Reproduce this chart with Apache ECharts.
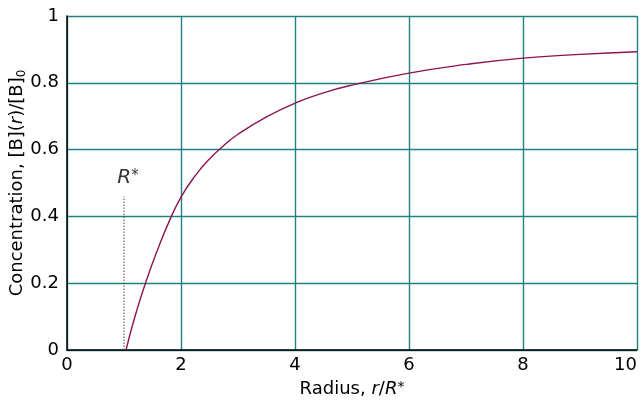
<!DOCTYPE html>
<html>
<head>
<meta charset="utf-8">
<script src="https://cdn.jsdelivr.net/npm/echarts@6/dist/echarts.min.js"></script>
<style>
html,body{margin:0;padding:0;background:#fff;}
#chart{width:643px;height:401px;}
</style>
</head>
<body>
<div id="chart"></div>
<script>
// Radius r/R* and concentration [B](r)/[B]0
const radius = [1.035, 1.2, 1.4, 1.6, 1.8, 2, 2.25, 2.5, 2.75, 3, 3.5, 4, 4.5, 5, 6, 7, 8, 9, 10];
const concentration = [0, 0.105, 0.212, 0.305, 0.388, 0.458, 0.522, 0.572, 0.612, 0.646, 0.698, 0.739, 0.77, 0.793, 0.829, 0.855, 0.874, 0.885, 0.893];
const rStarX = [1, 1];
const rStarY = [0, 0.46];
const rStarLabelPos = [1, 0.515];
const xTicks = [0, 2, 4, 6, 8, 10];
const yTicks = [0, 0.2, 0.4, 0.6, 0.8, 1];

const FONT = 'DejaVu Sans, sans-serif';
const FS = 18;
const GRID = '#238080';

const chart = echarts.init(document.getElementById('chart'), null, {renderer: 'canvas'});
chart.setOption({
  animation: false,
  backgroundColor: '#fff',
  grid: {left: 67, right: 6, top: 16, bottom: 51, containLabel: false, outerBoundsMode: 'none'},
  xAxis: {
    type: 'value', min: 0, max: 10, interval: 2,
    axisLine: {show: true, onZero: false, lineStyle: {color: '#000', width: 1.5}},
    axisTick: {show: false},
    splitLine: {show: true, lineStyle: {color: GRID, width: 1.4}},
    axisLabel: {color: '#000', fontSize: FS, fontFamily: FONT, margin: 6, alignMaxLabel: 'right',
      formatter: v => xTicks.includes(v) ? String(v) : ''},
    name: '{n|Radius, }{i|r}{n|/}{i|R}{s|*}',
    nameLocation: 'middle', nameGap: 30, nameMoveOverlap: false,
    nameTextStyle: {
      rich: {
        n: {fontSize: FS, fontFamily: FONT, color: '#000'},
        i: {fontSize: FS, fontFamily: FONT, color: '#000', fontStyle: 'italic'},
        s: {fontSize: 14, fontFamily: FONT, color: '#000', padding: [0, 0, 4, 0]}
      }
    }
  },
  yAxis: {
    type: 'value', min: 0, max: 1, interval: 0.2,
    axisLine: {show: true, onZero: false, lineStyle: {color: '#000', width: 1.5}},
    axisTick: {show: false},
    splitLine: {show: true, lineStyle: {color: GRID, width: 1.4}},
    axisLabel: {color: '#000', fontSize: FS, fontFamily: FONT, margin: 8,
      formatter: v => {
        const t = yTicks.find(k => Math.abs(k - v) < 1e-9);
        return t === undefined ? '' : String(t);
      }},
    name: '{n|Concentration, [B](}{i|r}{n|)/[B]}{sub|0}',
    nameLocation: 'middle', nameGap: 39, nameRotate: 90, nameMoveOverlap: false,
    nameTextStyle: {
      rich: {
        n: {fontSize: FS, fontFamily: FONT, color: '#000'},
        i: {fontSize: FS, fontFamily: FONT, color: '#000', fontStyle: 'italic'},
        sub: {fontSize: 12, fontFamily: FONT, color: '#000', padding: [9, 0, 0, 0]}
      }
    }
  },
  series: [
    {
      type: 'line', smooth: 0.5, showSymbol: false, silent: true,
      data: radius.map((r, i) => [r, concentration[i]]),
      lineStyle: {color: '#8c1452', width: 1.4}
    },
    {
      type: 'line', showSymbol: false, silent: true,
      data: rStarX.map((r, i) => [r, rStarY[i]]),
      lineStyle: {color: '#444', width: 1, type: [1.5, 1.5]}
    },
    {
      type: 'scatter', symbolSize: 0, silent: true,
      data: [rStarLabelPos],
      label: {
        show: true, position: 'inside', offset: [4, 0],
        formatter: '{i|R}{s|*}',
        rich: {
          i: {fontSize: 20, fontFamily: FONT, color: '#000', fontStyle: 'italic'},
          s: {fontSize: 15, fontFamily: FONT, color: '#000', padding: [0, 0, 4, 0]}
        }
      }
    }
  ]
});
</script>
</body>
</html>
